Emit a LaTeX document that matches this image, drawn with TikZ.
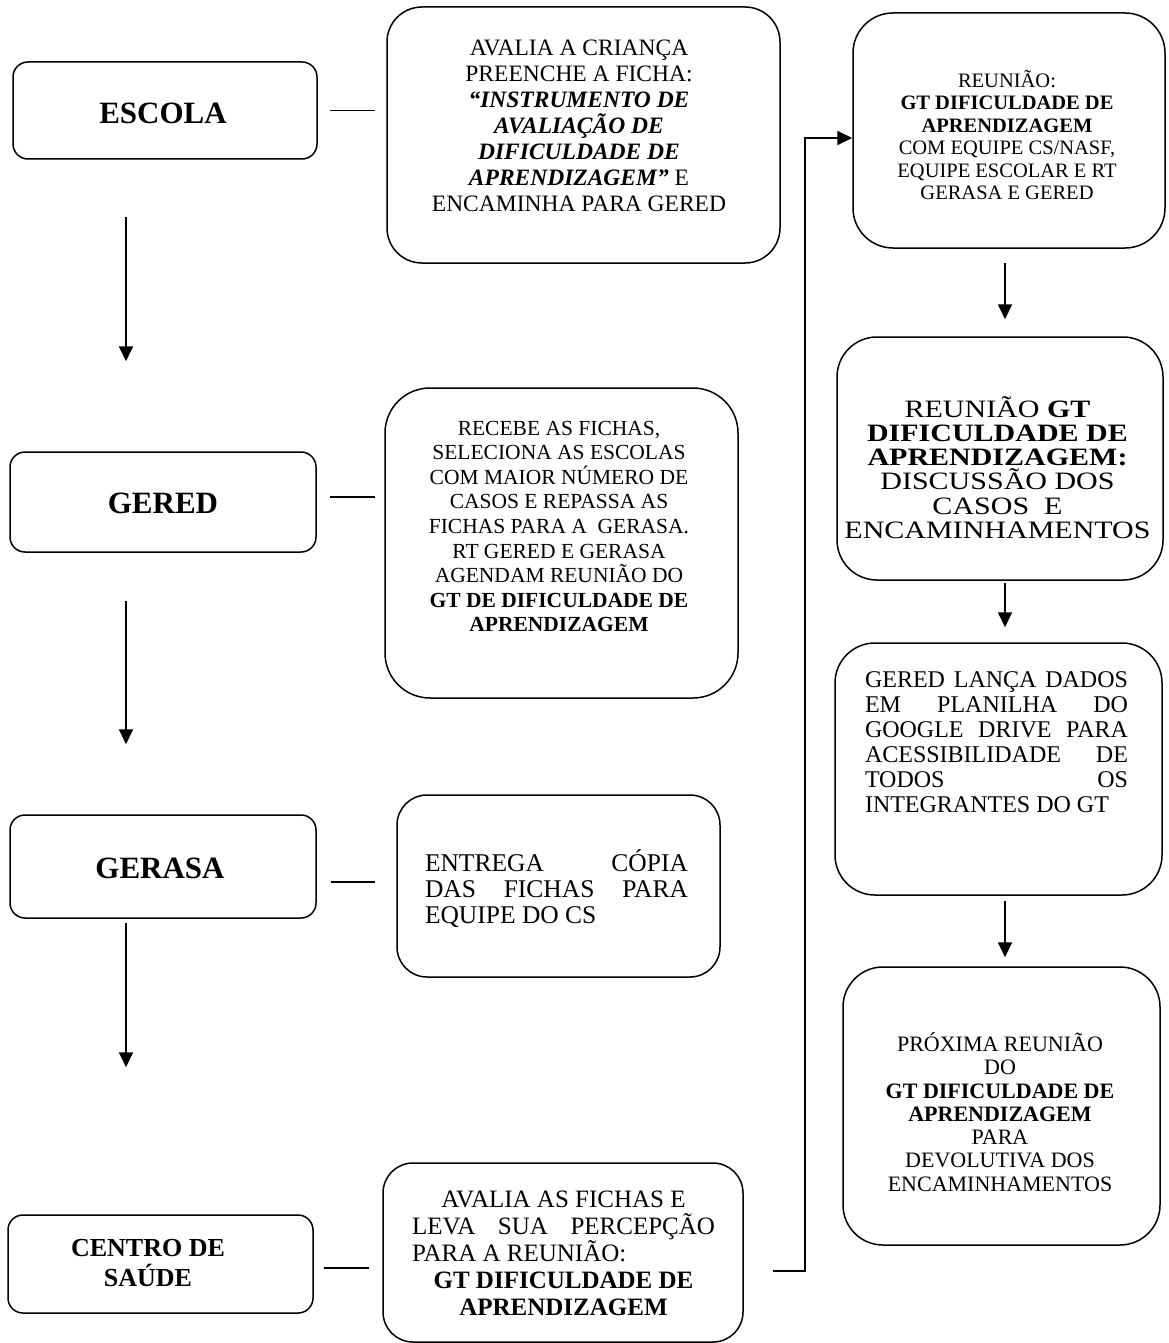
\documentclass[tikz,border=0pt]{standalone}
\usepackage{fontspec}
\setmainfont{Liberation Serif}
\newfontfamily\widefont[FakeStretch=1.2]{Liberation Serif}
\usetikzlibrary{arrows.meta}
\tikzset{
  rbox/.style={draw, line width=1.5pt, rounded corners=#1, inner sep=0pt},
  arr/.style={line width=1.8pt, -{Triangle[width=14pt,length=15pt]}},
  link/.style={line width=1.8pt},
  ttl/.style={font=\bfseries\fontsize{31}{34}\selectfont, align=center},
}
\begin{document}
\begin{tikzpicture}[x=1pt,y=-1pt]
\useasboundingbox (0,0) rectangle (1168,1343);

% left column boxes
\node[rbox=15pt, minimum width=304pt, minimum height=97pt] (escola) at (165,110.5) {};
\node[ttl] (escola-t) at (163,113) {ESCOLA};
\node[rbox=15pt, minimum width=306pt, minimum height=100pt] (gered) at (163,502) {};
\node[ttl] (gered-t) at (163,503) {GERED};
\node[rbox=15pt, minimum width=306pt, minimum height=103pt] (gerasa) at (163,866.5) {};
\node[ttl] (gerasa-t) at (160,868) {GERASA};
\node[rbox=15pt, minimum width=305pt, minimum height=98pt] (centro) at (160.5,1264) {};
\node[ttl, font=\bfseries\fontsize{26}{30}\selectfont] (centro-t) at (148,1263) {CENTRO DE\\SAÚDE};

% middle column boxes
\node[rbox=35pt, minimum width=393pt, minimum height=256pt] (b1) at (583.5,135) {};
\node[align=center, font=\fontsize{23.5}{26}\selectfont] (b1-t) at (579,126)
  {AVALIA A CRIANÇA\\PREENCHE A FICHA:\\\textbf{\textit{“INSTRUMENTO DE}}\\\textbf{\textit{AVALIAÇÃO DE}}\\\textbf{\textit{DIFICULDADE DE}}\\\textbf{\textit{APRENDIZAGEM”}} E\\ENCAMINHA PARA GERED};

\node[rbox=45pt, minimum width=353pt, minimum height=310pt] (b2) at (561.5,543) {};
\node[align=center, font=\fontsize{21.5}{24.6}\selectfont] (b2-t) at (559,526.5)
  {RECEBE AS FICHAS,\\SELECIONA AS ESCOLAS\\COM MAIOR NÚMERO DE\\CASOS E REPASSA AS\\FICHAS PARA A\ \ GERASA.\\RT GERED E GERASA\\AGENDAM REUNIÃO DO\\\textbf{GT DE DIFICULDADE DE}\\\textbf{APRENDIZAGEM}};

\node[rbox=30pt, minimum width=323pt, minimum height=182pt] (b3) at (558.5,886) {};
\node[align=center, font=\fontsize{25.5}{26}\selectfont] (b3-t) at (556.5,889)
  {\makebox[263pt][s]{ENTREGA CÓPIA}\\\makebox[263pt][s]{DAS FICHAS PARA}\\\makebox[263pt][l]{EQUIPE DO CS}};

\node[rbox=30pt, minimum width=360pt, minimum height=179pt] (b4) at (563,1252.5) {};
\node[align=center, font=\fontsize{25}{27}\selectfont] (b4-t) at (563.5,1253)
  {AVALIA AS FICHAS E\\\makebox[303pt][s]{LEVA SUA PERCEPÇÃO}\\\makebox[303pt][l]{PARA A REUNIÃO:}\\\textbf{GT DIFICULDADE DE}\\\textbf{APRENDIZAGEM}};

% right column boxes
\node[rbox=40pt, minimum width=312pt, minimum height=235pt] (r1) at (1009,130.5) {};
\node[align=center, font=\fontsize{20.5}{22.5}\selectfont] (r1-t) at (1007,135)
  {REUNIÃO:\\\textbf{GT DIFICULDADE DE}\\\textbf{APRENDIZAGEM}\\COM EQUIPE CS/NASF,\\EQUIPE ESCOLAR E RT\\GERASA E GERED};

\node[rbox=40pt, minimum width=326pt, minimum height=243pt] (r2) at (1000,458.5) {};
\node[align=center, font=\widefont\fontsize{25}{24.2}\selectfont] (r2-t) at (997.5,467.5)
  {REUNIÃO \textbf{GT}\\\textbf{DIFICULDADE DE}\\\textbf{APRENDIZAGEM:}\\DISCUSSÃO DOS\\CASOS\ \ E\\ENCAMINHAMENTOS};

\node[rbox=40pt, minimum width=327pt, minimum height=252pt] (r3) at (998.5,769) {};
\node[align=center, font=\fontsize{24}{25}\selectfont] (r3-t) at (996.5,742.5)
  {\makebox[263pt][s]{GERED LANÇA DADOS}\\\makebox[263pt][s]{EM PLANILHA DO}\\\makebox[263pt][s]{GOOGLE DRIVE PARA}\\\makebox[263pt][s]{ACESSIBILIDADE DE}\\\makebox[263pt][s]{TODOS OS}\\\makebox[263pt][l]{INTEGRANTES DO GT}};

\node[rbox=40pt, minimum width=317pt, minimum height=278pt] (r4) at (1001.5,1106) {};
\node[align=center, font=\fontsize{22}{23.3}\selectfont] (r4-t) at (1000,1112)
  {PRÓXIMA REUNIÃO\\DO\\\textbf{GT DIFICULDADE DE}\\\textbf{APRENDIZAGEM}\\PARA\\DEVOLUTIVA DOS\\ENCAMINHAMENTOS};

% short links between left boxes and middle boxes
\draw[link] ([xshift=12pt]escola.east) -- ([xshift=-11pt]escola.east -| b1.west);
\draw[link] ([xshift=13pt,yshift=5pt]gered.east) -- ([xshift=-9pt,yshift=5pt]gered.east -| b2.west);
\draw[link] ([xshift=14pt,yshift=-15.5pt]gerasa.east) -- ([xshift=-21pt,yshift=-15.5pt]gerasa.east -| b3.west);
\draw[link] ([xshift=10pt,yshift=-4pt]centro.east) -- ([xshift=-13pt,yshift=-4pt]centro.east -| b4.west);

% left column arrows
\draw[arr, shorten <=57pt, shorten >=90pt] ([xshift=-39pt]escola.south) -- ([xshift=-39pt]escola.south |- gered.north);
\draw[arr, shorten <=48pt, shorten >=70pt] ([xshift=-37pt]gered.south) -- ([xshift=-37pt]gered.south |- gerasa.north);
\draw[arr, shorten <=4pt, shorten >=147pt] ([xshift=-37pt]gerasa.south) -- ([xshift=-37pt]gerasa.south |- centro.north);

% long connector from bottom middle box to top right box
\draw[arr] ([xshift=29pt,yshift=-18.5pt]b4.east) -- ++(32,0) |- ([yshift=-7.5pt]r1.west);

% right column arrows
\draw[arr, shorten <=14pt, shorten >=17pt] ([xshift=-4pt]r1.south) -- ([xshift=-4pt]r1.south |- r2.north);
\draw[arr, shorten <=2pt, shorten >=15pt] ([xshift=5pt]r2.south) -- ([xshift=5pt]r2.south |- r3.north);
\draw[arr, shorten <=5pt, shorten >=9pt] ([xshift=6.5pt]r3.south) -- ([xshift=6.5pt]r3.south |- r4.north);
\end{tikzpicture}
\end{document}
